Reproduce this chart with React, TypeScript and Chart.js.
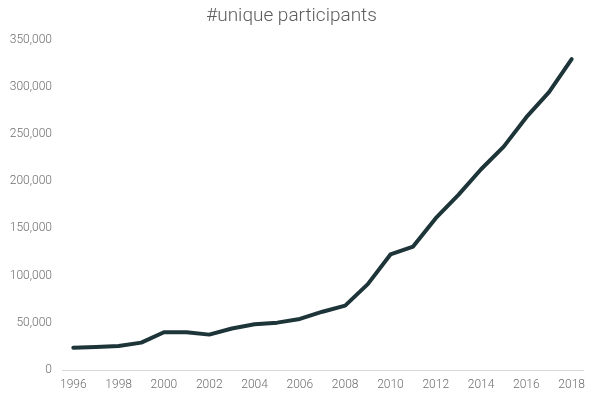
import React, { useEffect, useRef } from "react";
import { Chart, registerables } from "chart.js";

Chart.register(...registerables);

const years = [
  "1996", "1997", "1998", "1999", "2000", "2001", "2002", "2003", "2004", "2005", "2006", "2007",
  "2008", "2009", "2010", "2011", "2012", "2013", "2014", "2015", "2016", "2017", "2018",
];
const participants = [
  23600, 24500, 25500, 29000, 40000, 40000, 37500, 44000, 48500, 50200, 54100, 61800,
  68200, 91000, 122500, 130800, 160900, 185600, 212800, 236800, 268000, 294500, 329500,
];
const chartTitle = "#unique participants";
const yMax = 350000;
const yStep = 50000;

export default function App() {
  const ref = useRef<HTMLCanvasElement | null>(null);
  useEffect(() => {
    document.body.style.margin = "0";
    const canvas = ref.current;
    if (!canvas) return;
    const chart = new Chart(canvas, {
      type: "line",
      data: {
        labels: years,
        datasets: [
          {
            label: chartTitle,
            data: participants,
            borderColor: "#1d3438",
            borderWidth: 4,
            pointRadius: 0,
            tension: 0,
            borderJoinStyle: "round",
            borderCapStyle: "round",
            fill: false,
          },
        ],
      },
      options: {
        responsive: false,
        animation: false,
        layout: { padding: { left: 0, right: 17, top: 0, bottom: 0 } },
        plugins: {
          legend: { display: false },
          tooltip: { enabled: false },
          title: {
            display: true,
            text: chartTitle,
            color: "#5c5c5c",
            font: { family: "Roboto", size: 19, weight: 300 },
            padding: { top: 5, bottom: 12 },
          },
        },
        scales: {
          x: {
            offset: true,
            grid: { display: false, drawTicks: false },
            border: { display: true, color: "#d9d9d9", width: 1 },
            ticks: {
              autoSkip: false,
              maxRotation: 0,
              padding: 8,
              color: "#6e6e6e",
              font: { family: "Roboto", size: 12, weight: 300 },
              callback: (_v: any, i: number) => (i % 2 === 0 ? years[i] : ""),
            },
            afterFit: (s: any) => {
              s.height = 34;
            },
          },
          y: {
            min: 0,
            max: yMax,
            grid: { display: false, drawTicks: false },
            border: { display: false },
            ticks: {
              stepSize: yStep,
              padding: 10,
              color: "#6e6e6e",
              font: { family: "Roboto", size: 12, weight: 300 },
              callback: (v: any) => Number(v).toLocaleString("en-US"),
            },
            afterFit: (s: any) => {
              s.width = 62;
            },
          },
        },
      },
    });
    return () => chart.destroy();
  }, []);
  return (
    <div style={{ width: 600, height: 404 }}>
      <canvas ref={ref} width={600} height={404} style={{ display: "block" }} />
    </div>
  );
}
